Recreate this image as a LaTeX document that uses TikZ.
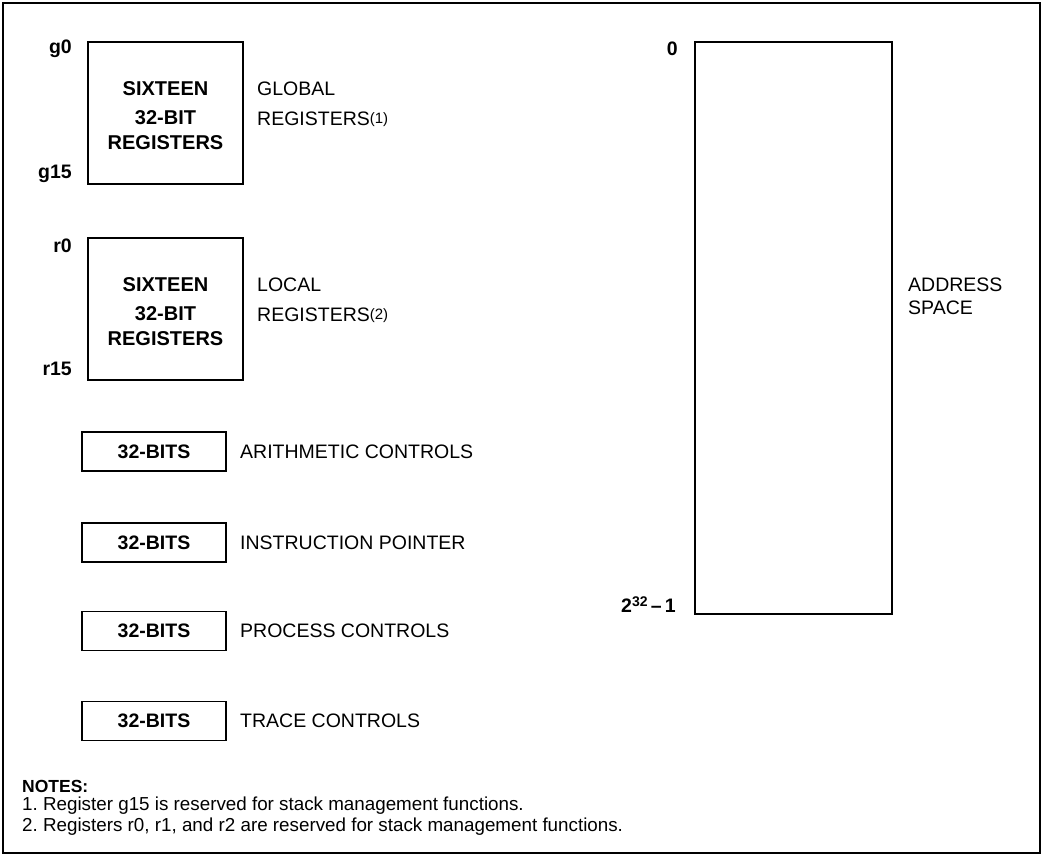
\documentclass[tikz,border=0pt]{standalone}
\usepackage{fontspec}
\setmainfont{Liberation Sans}
\frenchspacing
\begin{document}
\begin{tikzpicture}[x=1pt,y=-1pt,
  frame/.style={draw,line width=1.1pt},
  regbox/.style={draw,line width=1.8pt,minimum width=155pt,minimum height=142pt,inner sep=0pt,align=center,font=\fontsize{20}{23}\selectfont\bfseries},
  bitbox/.style={draw,line width=1.6pt,minimum width=144pt,minimum height=39pt,inner sep=0pt,font=\fontsize{19.5}{23}\selectfont\bfseries},
  addrbox/.style={draw,line width=1.8pt,minimum width=197pt,minimum height=572pt,inner sep=0pt},
  idx/.style={anchor=east,inner sep=0pt,font=\fontsize{19.5}{23}\selectfont\bfseries},
  lbl/.style={anchor=west,inner sep=0pt,align=left,font=\fontsize{19.5}{23}\selectfont},
  note/.style={anchor=west,inner sep=0pt,font=\fontsize{18.8}{21}\selectfont},
  notehead/.style={anchor=west,inner sep=0pt,font=\fontsize{17.5}{21}\selectfont\bfseries}
]
\useasboundingbox (0,0) rectangle (1042,856);
\draw[frame] (3,3) rectangle (1040,853);

% global registers
\node[regbox] (glob) at (165.5,113) {\rule{0pt}{19pt}SIXTEEN\\[6.5pt]32-BIT\\[1.5pt]REGISTERS};
\node[idx] (g0) at (72,49) {g0};
\node[idx] (g15) at (72,174) {g15};
\node[lbl] (globl) at (257,104) {GLOBAL\\[7pt]REGISTERS\raisebox{1.5pt}{\fontsize{15}{15}\selectfont(1)}};

% local registers
\node[regbox] (loc) at (165.5,309) {\rule{0pt}{19pt}SIXTEEN\\[6.5pt]32-BIT\\[1.5pt]REGISTERS};
\node[idx] (r0) at (72,246) {r0};
\node[idx] (r15) at (72,369) {r15};
\node[lbl] (locl) at (257,300) {LOCAL\\[7pt]REGISTERS\raisebox{1.5pt}{\fontsize{15}{15}\selectfont(2)}};

% 32-bit registers
\node[bitbox] (ac) at (154,451.5) {32-BITS};
\node[lbl] (acl) at (240,451.5) {ARITHMETIC CONTROLS};
\node[bitbox] (ip) at (154,542.5) {32-BITS};
\node[lbl] (ipl) at (240,542.5) {INSTRUCTION POINTER};
\node[bitbox] (pc) at (154,631) {32-BITS};
\node[lbl] (pcl) at (240,631) {PROCESS CONTROLS};
\node[bitbox] (tc) at (154,721) {32-BITS};
\node[lbl] (tcl) at (240,721) {TRACE CONTROLS};

% address space
\node[addrbox] (addr) at (793.5,328) {};
\node[idx] (a0) at (678,49) {0};
\node[idx] (amax) at (676,605) {2\raisebox{6pt}{\fontsize{14}{14}\selectfont 32}\,–\,1};
\node[lbl] (addrl) at (908,296.5) {ADDRESS\\[0pt]SPACE};

% notes
\node[notehead] (notes) at (22,786) {NOTES:};
\node[note] (n1) at (22,806) {1. Register g15 is reserved for stack management functions.};
\node[note] (n2) at (22,827) {2. Registers r0, r1, and r2 are reserved for stack management functions.};
\end{tikzpicture}
\end{document}
